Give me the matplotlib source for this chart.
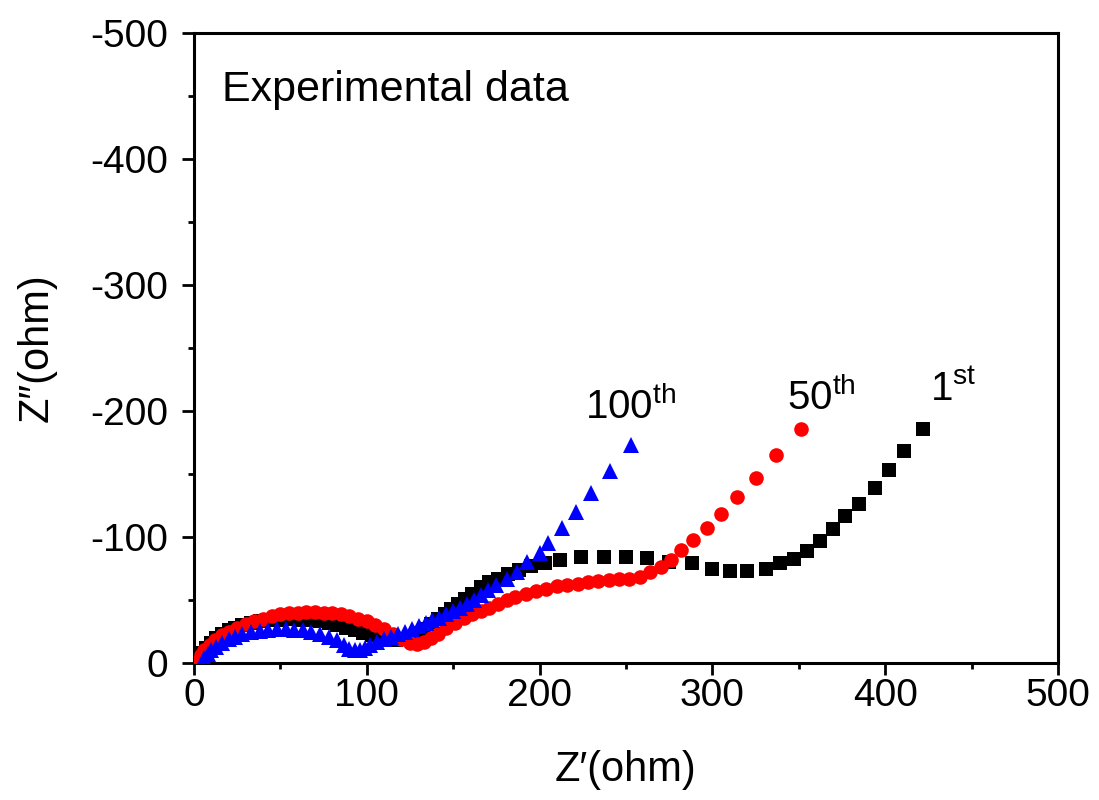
import numpy as np
import matplotlib
matplotlib.use('Agg')
import matplotlib.pyplot as plt

plt.rcParams['font.family'] = ['Liberation Sans', 'DejaVu Sans']
plt.rcParams['mathtext.fontset'] = 'custom'
plt.rcParams['mathtext.rm'] = 'Liberation Sans'
plt.rcParams['axes.unicode_minus'] = False

# 1st cycle (black squares): Z' and Z'' in ohm
z_re_1st = [3, 5, 7, 10, 13, 16, 20, 24, 28, 33, 38, 43, 48, 53, 58, 63, 68, 73, 78, 83,
            88, 93, 98, 103, 108, 113, 117, 121, 125, 129, 133, 137, 141, 145, 149, 153,
            157, 161, 166, 171, 176, 182, 188, 195, 203, 212, 224, 237, 250, 262, 275,
            288, 300, 310, 320, 331, 339, 347, 355, 362, 370, 377, 385, 394, 402, 411, 422]
z_im_1st = [-3, -8, -12, -16, -20, -23, -26, -28, -30, -32, -33, -34, -34.5, -35, -35, -34.5,
            -34, -33, -31.5, -30, -28, -26, -24, -22, -20, -18.5, -18, -19, -21, -24, -27,
            -31, -35, -39, -43, -47, -51, -55, -60, -64, -67, -71, -74, -77, -79, -82, -84,
            -84, -84, -83, -80, -79, -75, -73, -73, -75, -79, -82.5, -89, -97, -106, -117,
            -126, -139, -153, -168, -186]

# 50th cycle (red circles)
z_re_50th = [2, 4, 6, 9, 12, 16, 20, 25, 30, 35, 40, 45, 50, 55, 60, 65, 70, 75, 80, 85, 90,
             95, 100, 105, 110, 115, 120, 125, 129, 133, 137, 141, 146, 151, 156, 161, 166,
             171, 176, 181, 186, 192, 198, 204, 210, 216, 222, 228, 234, 240, 246, 252, 258,
             264, 270, 276, 282, 289, 297, 305, 314, 325, 337, 351]
z_im_50th = [-1, -6, -10, -14, -18, -22, -25, -28, -31, -33, -35, -37, -38.5, -39.5, -40,
             -40.5, -40.5, -40, -39.5, -38.5, -37, -35, -33, -30, -27, -23, -19, -16, -15,
             -17, -20, -23, -28, -32, -36, -39, -41, -44, -47, -50, -52, -55, -57, -59, -61,
             -62, -63, -64, -65, -66, -66.5, -67, -68, -72, -76, -82, -90, -97.5, -107,
             -118, -132, -147, -165, -186]

# 100th cycle (blue triangles)
z_re_100th = [5, 6, 8, 10, 13, 16, 20, 24, 28, 33, 38, 43, 48, 53, 58, 63, 68, 73, 78, 83,
              87, 90, 93, 96, 99, 102, 106, 110, 114, 118, 122, 126, 130, 134, 138, 142, 146,
              150, 154, 158, 162, 166, 170, 175, 181, 187, 193, 200, 205, 213, 221, 230,
              241, 253]
z_im_100th = [-1, -4, -7, -10, -13, -16, -19, -21, -23, -24.5, -25.5, -26.5, -27, -27, -26.5,
              -26, -25, -23, -21, -18, -14.5, -11.5, -10, -10.5, -12, -14, -16.5, -19, -21,
              -23, -25, -27, -29.5, -32, -34, -36, -38.5, -41, -44, -47, -50, -54, -58, -62,
              -67, -72, -80, -87, -95, -107, -120, -135, -152, -173]

labels = ['1', '50', '100']
suffixes = ['st', 'th', 'th']
label_pos = [(426, -208), (343, -201), (226, -194)]

fig = plt.figure(figsize=(10.99, 8.0), dpi=100)
ax = fig.add_axes([0.1765, 0.17125, 0.7862, 0.7875])

ax.plot(z_re_1st, z_im_1st, 's', color='black', ms=9.5, mew=0, zorder=3)
ax.plot(z_re_50th, z_im_50th, 'o', color='red', ms=10.5, mew=0, zorder=4)
ax.plot(z_re_100th, z_im_100th, '^', color='blue', ms=12, mew=0, zorder=5)

ax.set_xlim(0, 500)
ax.set_ylim(0, -500)
ax.set_xticks(np.arange(0, 501, 100))
ax.set_yticks(np.arange(0, -501, -100))
ax.set_xticks(np.arange(50, 500, 100), minor=True)
ax.set_yticks(np.arange(-50, -500, -100), minor=True)

for s in ax.spines.values():
    s.set_linewidth(2.2)
ax.tick_params(which='both', direction='out', top=False, right=False, width=2, labelsize=28)
ax.tick_params(which='major', length=8.5)
ax.tick_params(which='minor', length=4.5)
ax.tick_params(axis='x', pad=2)
ax.tick_params(axis='y', pad=10)

ax.set_xlabel('Z\u2032(ohm)', fontsize=30, labelpad=26)
ax.set_ylabel('Z\u2033(ohm)', fontsize=30, labelpad=24)

ax.text(0.032, 0.91, 'Experimental data', transform=ax.transAxes, fontsize=31,
        ha='left', va='center')

for lab, suf, (x, y) in zip(labels, suffixes, label_pos):
    ax.text(x, y, lab + r'$^{\mathrm{' + suf + '}}$', fontsize=29, ha='left', va='baseline')

fig.savefig('out.png', dpi=100)
